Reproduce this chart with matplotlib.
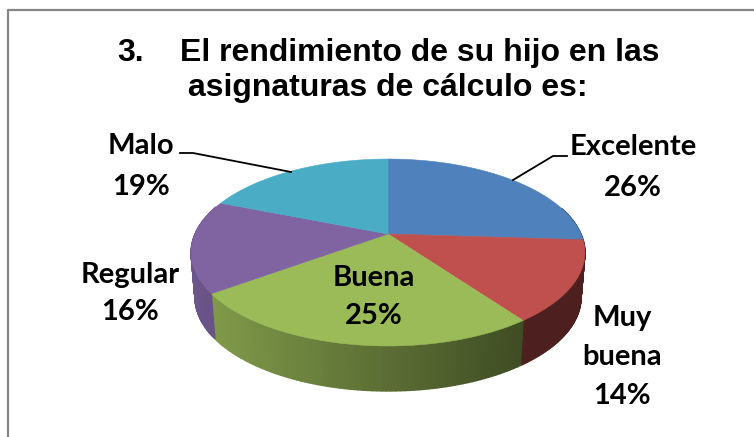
import matplotlib
matplotlib.use("Agg")
import matplotlib.pyplot as plt
import numpy as np
from matplotlib.colors import to_rgb

W = 754
H = 437

categories = ["Excelente", "Muy buena", "Buena", "Regular", "Malo"]
values = [26, 14, 25, 16, 19]
colors = ["#4f81bd", "#c0504d", "#9bbb59", "#8064a2", "#4bacc6"]

title_parts = ["3.", "El rendimiento de su hijo en las", "asignaturas de cálculo es:"]

# perspective of the pie, in pixels
cx, cy = 388, 234
a, b, k = 193, 89.8, 0.198
depth = 45
shrink = 0.98


def ring(t):
    # t is clockwise from the top, radians
    u, v = np.sin(t), np.cos(t)
    w = 1 + k * v
    return cx + a * u / w, cy - b * v / w


def side_shade(x, color):
    # lighter on the left, dark on the right
    f = np.clip((x - 190) / 340, 0, 1)
    light = 0.85 - 0.45 * f
    return tuple(c * light for c in to_rgb(color))


fig = plt.figure(figsize=(W / 100, H / 100), dpi=100)
ax = fig.add_axes([0, 0, 1, 1])
ax.set_xlim(0, W)
ax.set_ylim(H, 0)
ax.axis("off")

# frame
ax.plot([8, 8, W], [H, 10, 10], color="#868686", lw=1.6, zorder=1)

edges = np.cumsum([0] + values) / sum(values) * 2 * np.pi

# side wall first
for i in range(len(values)):
    t = np.linspace(edges[i], edges[i + 1], 80)
    x, y = ring(t)
    xb = cx + (x - cx) * shrink
    for j in range(len(t) - 1):
        if not (np.pi * 0.4 < t[j] < np.pi * 1.6):
            continue
        xs = [x[j], x[j + 1], xb[j + 1], xb[j]]
        ys = [y[j], y[j + 1], y[j + 1] + depth, y[j] + depth]
        c = side_shade(x[j], colors[i])
        ax.fill(xs, ys, color=c, lw=1.0, zorder=2)

# top face
for i in range(len(values)):
    t = np.linspace(edges[i], edges[i + 1], 80)
    x, y = ring(t)
    ax.fill(np.r_[cx, x], np.r_[cy, y], color=colors[i], lw=0.4, zorder=3)

# leader lines
ax.plot([180, 193, 291], [153, 153, 172], color="k", lw=1.3, zorder=4)
ax.plot([567, 553, 513], [156, 156, 180], color="k", lw=1.3, zorder=4)

# labels
lab = dict(family="Lato", weight="bold", fontsize=21, ha="center", va="center", color="k", zorder=5)
ax.text(141, 146, categories[4], **lab)
ax.text(141, 187, f"{values[4]}%", **lab)
ax.text(633, 147, categories[0], **lab)
ax.text(633, 188, f"{values[0]}%", **lab)
ax.text(130, 275, categories[3], **lab)
ax.text(130, 312, f"{values[3]}%", **lab)
ax.text(374, 278, categories[2], **lab)
ax.text(374, 316, f"{values[2]}%", **lab)
ax.text(622, 318, "Muy", **lab)
ax.text(622, 357, "buena", **lab)
ax.text(622, 396, f"{values[1]}%", **lab)

# title
ttl = dict(family="Liberation Sans", weight="bold", fontsize=23, ha="left", va="center", color="k", zorder=5)
ax.text(117, 53, title_parts[0], **ttl)
ax.text(180, 53, title_parts[1], **ttl)
ax.text(188, 88, title_parts[2], **ttl)

fig.savefig("out.png", dpi=100)
